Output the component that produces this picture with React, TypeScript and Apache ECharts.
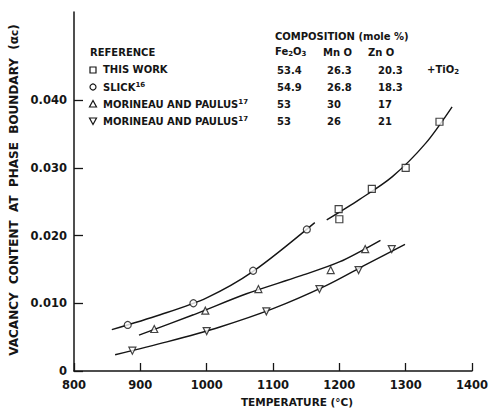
import React, { useEffect, useRef } from "react";
import * as echarts from "echarts";

// Measured points (temperature °C, vacancy content)
const squareT = [1199, 1200, 1249, 1300, 1351];
const squareV = [0.0239, 0.0224, 0.0269, 0.03, 0.0368];
const circleT = [881, 980, 1070, 1151];
const circleV = [0.0068, 0.01, 0.0148, 0.0209];
const upT = [921, 998, 1078, 1187, 1239];
const upV = [0.0062, 0.0089, 0.0121, 0.0149, 0.018];
const downT = [888, 1000, 1090, 1170, 1229, 1279];
const downV = [0.003, 0.0059, 0.0088, 0.0121, 0.0149, 0.018];

// Fitted curves
const squareFitT = [1181, 1230, 1280, 1330, 1370];
const squareFitV = [0.0223, 0.0253, 0.0287, 0.0336, 0.039];
const circleFitT = [857, 930, 1000, 1070, 1163];
const circleFitV = [0.0061, 0.0083, 0.0108, 0.0147, 0.0219];
const upFitT = [898, 980, 1060, 1140, 1200, 1262];
const upFitV = [0.0053, 0.0083, 0.0114, 0.014, 0.0161, 0.0193];
const downFitT = [862, 940, 1020, 1100, 1180, 1240, 1299];
const downFitV = [0.0024, 0.0043, 0.0065, 0.0092, 0.0126, 0.0157, 0.0187];

const yTickValues = [0, 0.01, 0.02, 0.03, 0.04];

// Legend / table text
const references = ["THIS WORK", "SLICK", "MORINEAU AND PAULUS", "MORINEAU AND PAULUS"];
const refSup = ["", "16", "17", "17"];
const fe2o3 = ["53.4", "54.9", "53", "53"];
const mno = ["26.3", "26.8", "30", "26"];
const zno = ["20.3", "18.3", "17", "21"];

const FONT = "DejaVu Sans";
const INK = "#151515";

const zip = (a: number[], b: number[]) => a.map((v, i) => [v, b[i]]);

export default function App() {
  const ref = useRef<HTMLDivElement>(null);
  useEffect(() => {
    document.body.style.margin = "0";
    const chart = echarts.init(ref.current!, undefined, { renderer: "svg" });
    const markerStyle = { color: "#fff", borderColor: INK, borderWidth: 1.2 };
    const lineStyle = { color: INK, width: 1.4 };
    const fit = (t: number[], v: number[]) => ({
      type: "line",
      data: zip(t, v),
      showSymbol: false,
      smooth: 0.3,
      lineStyle,
      silent: true,
      z: 2,
    });
    const pts = (t: number[], v: number[], symbol: string, rotate = 0) => ({
      type: "scatter",
      data: zip(t, v),
      symbol,
      symbolSize: 7,
      symbolRotate: rotate,
      itemStyle: markerStyle,
      z: 3,
    });

    const rowY = [70, 87, 104, 121];
    const txt = { fontFamily: FONT, fontWeight: "bold", fontSize: 10, fill: INK };
    const graphics: any[] = [];
    graphics.push({
      type: "text", left: 275, top: 31,
      style: { ...txt, text: "COMPOSITION (mole %)" },
    });
    graphics.push({ type: "text", left: 90, top: 47, style: { ...txt, text: "REFERENCE" } });
    const sub = { fontFamily: FONT, fontWeight: "bold", fontSize: 7, fill: INK, verticalAlign: "bottom", lineHeight: 12 };
    const sup = { fontFamily: FONT, fontWeight: "bold", fontSize: 7, fill: INK, verticalAlign: "top", lineHeight: 12 };
    const main = { fontFamily: FONT, fontWeight: "bold", fontSize: 10, fill: INK, lineHeight: 12 };
    graphics.push({
      type: "text", left: 275, top: 46,
      style: { text: "{a|Fe}{b|2}{a|O}{b|3}", rich: { a: main, b: sub } },
    });
    graphics.push({ type: "text", left: 323, top: 47, style: { ...txt, text: "Mn O" } });
    graphics.push({ type: "text", left: 368, top: 47, style: { ...txt, text: "Zn O" } });
    references.forEach((name, i) => {
      const y = rowY[i];
      graphics.push({
        type: "text", left: 103, top: y - 6,
        style: { text: refSup[i] ? `{a|${name}}{s|${refSup[i]}}` : `{a|${name}}`, rich: { a: main, s: sup } },
      });
      graphics.push({ type: "text", left: 277, top: y - 5, style: { ...txt, text: fe2o3[i] } });
      graphics.push({ type: "text", left: 327, top: y - 5, style: { ...txt, text: mno[i] } });
      graphics.push({ type: "text", left: 378, top: y - 5, style: { ...txt, text: zno[i] } });
    });
    graphics.push({
      type: "text", left: 427, top: 64,
      style: { text: "{a|+TiO}{b|2}", rich: { a: main, b: sub } },
    });
    const sym = { fill: "#fff", stroke: INK, lineWidth: 1.2 };
    graphics.push({ type: "rect", shape: { x: 90, y: rowY[0] - 3, width: 6, height: 6 }, style: sym });
    graphics.push({ type: "circle", shape: { cx: 93, cy: rowY[1], r: 3 }, style: sym });
    graphics.push({
      type: "polygon",
      shape: { points: [[93, rowY[2] - 3.5], [89.5, rowY[2] + 3], [96.5, rowY[2] + 3]] },
      style: sym,
    });
    graphics.push({
      type: "polygon",
      shape: { points: [[93, rowY[3] + 3.5], [89.5, rowY[3] - 3], [96.5, rowY[3] - 3]] },
      style: sym,
    });
    // Axis titles
    graphics.push({
      type: "text", x: 297, y: 402,
      style: { ...txt, fontSize: 10.5, text: "TEMPERATURE (°C)", align: "center", verticalAlign: "middle" },
    });
    graphics.push({
      type: "text", x: 14, y: 190, rotation: Math.PI / 2,
      style: {
        text: "{a|VACANCY  CONTENT  AT  PHASE  BOUNDARY  (α}{b|c}{a|)}",
        align: "center", verticalAlign: "middle",
        rich: { a: { ...main, fontSize: 12 }, b: { ...main, fontSize: 10.5 } },
      },
    });

    chart.setOption({
      animation: false,
      grid: { left: 74, right: 14, top: 12, bottom: 39 },
      xAxis: {
        type: "value", min: 800, max: 1400, interval: 100,
        axisLine: { lineStyle: { color: INK, width: 1.5 } },
        axisTick: { inside: true, length: 8, lineStyle: { color: INK, width: 1.3 } },
        axisLabel: {
          color: INK, fontFamily: FONT, fontWeight: "bold", fontSize: 11.5, margin: 8,
          formatter: (v: number) => String(v),
        },
        splitLine: { show: false },
      },
      yAxis: {
        type: "value", min: 0, max: 0.053, interval: 0.01,
        axisLine: { show: true, lineStyle: { color: INK, width: 1.5 } },
        axisTick: { show: true, inside: true, length: 9, customValues: yTickValues, lineStyle: { color: INK, width: 1.3 } },
        axisLabel: {
          color: INK, fontFamily: FONT, fontWeight: "bold", fontSize: 11.5, margin: 7,
          customValues: yTickValues,
          formatter: (v: number) => (v === 0 ? "0" : v.toFixed(3)),
        },
        splitLine: { show: false },
      },
      graphic: graphics,
      series: [
        fit(squareFitT, squareFitV),
        fit(circleFitT, circleFitV),
        fit(upFitT, upFitV),
        fit(downFitT, downFitV),
        pts(squareT, squareV, "rect"),
        pts(circleT, circleV, "circle"),
        pts(upT, upV, "triangle"),
        pts(downT, downV, "triangle", 180),
      ],
    });
    return () => chart.dispose();
  }, []);
  return <div ref={ref} style={{ width: 491, height: 410 }} />;
}
